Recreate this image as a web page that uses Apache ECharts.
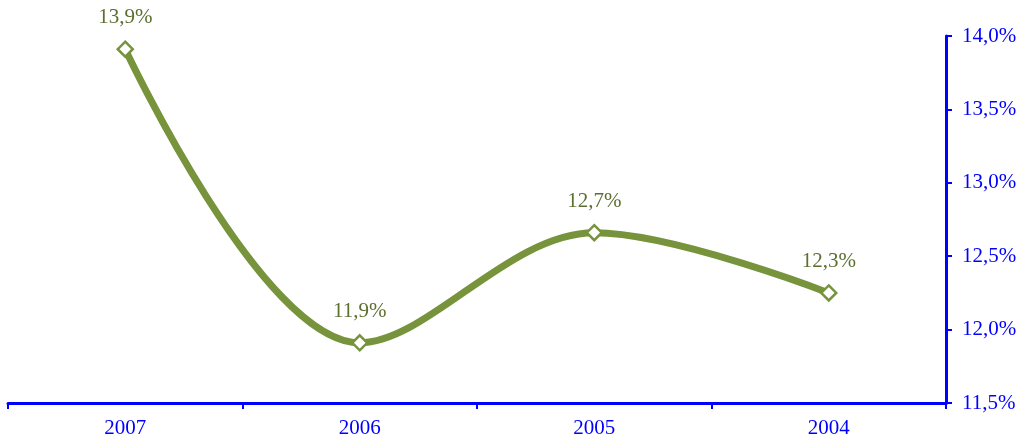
<!DOCTYPE html>
<html>
<head>
<meta charset="utf-8">
<script src="https://cdn.jsdelivr.net/npm/echarts@6/dist/echarts.min.js"></script>
<style>
  html, body { margin: 0; padding: 0; background: #ffffff; }
  #chart { width: 1024px; height: 444px; }
</style>
</head>
<body>
<div id="chart"></div>
<script>
// Years on the category axis and the yearly rate (in %)
const years = ['2007', '2006', '2005', '2004'];
const rates = [13.91, 11.91, 12.66, 12.25];

// Value axis range (in %)
const axisMin = 11.5;
const axisMax = 14.0;
const axisStep = 0.5;

const fmt = v => v.toFixed(1).replace('.', ',') + '%';

const lineColor = '#77933C';
const labelColor = '#5B6F2E';
const axisColor = '#0000FF';
const font = '"Liberation Serif", "Times New Roman", serif';

const chart = echarts.init(document.getElementById('chart'));
chart.setOption({
  animation: false,
  grid: { left: 8, right: 78, top: 36, bottom: 41 },
  xAxis: {
    type: 'category',
    data: years,
    boundaryGap: true,
    axisLine: { lineStyle: { color: axisColor, width: 3 } },
    axisTick: { show: true, length: 6, lineStyle: { color: axisColor, width: 2 } },
    axisLabel: { color: axisColor, fontFamily: font, fontSize: 21, margin: 15 },
    splitLine: { show: false }
  },
  yAxis: {
    type: 'value',
    position: 'right',
    min: axisMin,
    max: axisMax,
    interval: axisStep,
    axisLine: { show: true, lineStyle: { color: axisColor, width: 3 } },
    axisTick: { show: true, length: 6, lineStyle: { color: axisColor, width: 2 } },
    axisLabel: { color: axisColor, fontFamily: font, fontSize: 21, margin: 16, formatter: fmt },
    splitLine: { show: false }
  },
  series: [{
    type: 'line',
    data: rates,
    smooth: 0.35,
    symbol: 'diamond',
    symbolSize: 15,
    lineStyle: { color: lineColor, width: 7 },
    itemStyle: { color: '#ffffff', borderColor: lineColor, borderWidth: 2.5 },
    label: {
      show: true,
      position: 'top',
      distance: 12,
      color: labelColor,
      fontFamily: font,
      fontSize: 21,
      formatter: p => fmt(p.value)
    }
  }]
});
</script>
</body>
</html>
